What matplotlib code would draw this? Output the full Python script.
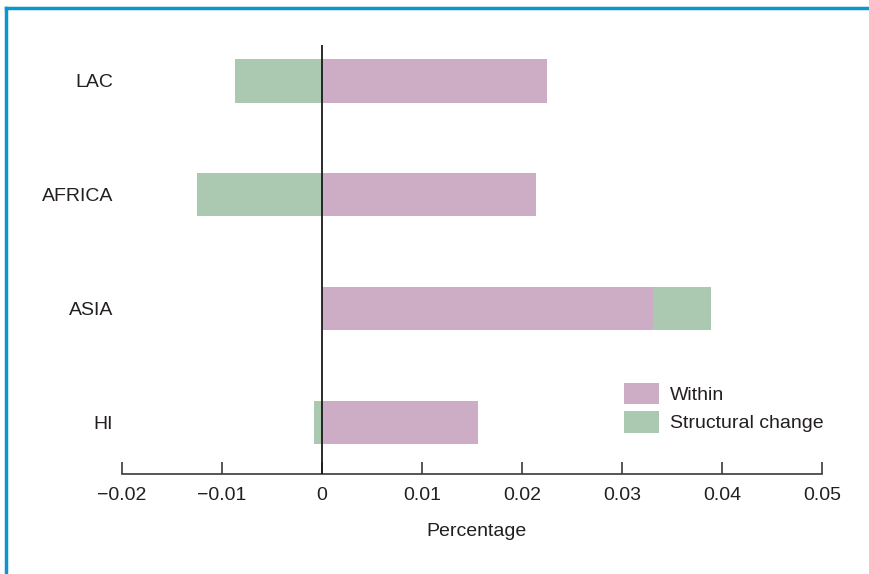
import matplotlib
matplotlib.use("Agg")
import matplotlib.pyplot as plt
from matplotlib.lines import Line2D

regions = ["HI", "ASIA", "AFRICA", "LAC"]
within = [0.0156, 0.0331, 0.0214, 0.0225]
structural = [-0.0008, 0.0058, -0.0125, -0.0087]
xticks = [-0.02, -0.01, 0, 0.01, 0.02, 0.03, 0.04, 0.05]
xticklabels = ["\u22120.02", "\u22120.01", "0", "0.01", "0.02", "0.03", "0.04", "0.05"]

c_within = "#cdadc6"
c_struct = "#abc8b1"
txt = "#231f20"
fs = 14

plt.rcParams['font.family'] = ['Liberation Sans', 'DejaVu Sans']

fig = plt.figure(figsize=(8.7, 5.74), dpi=100)
ax = fig.add_axes([122/870, 1-474/574, 700/870, 429/574])

ypos = list(range(len(regions)))
h = 0.38
ax.barh(ypos, within, height=h, color=c_within, label="Within", zorder=2)
# structural stacks on within when positive, starts at zero when negative
lefts = [w if s > 0 else 0 for w, s in zip(within, structural)]
ax.barh(ypos, structural, left=lefts, height=h, color=c_struct, label="Structural change", zorder=2)

ax.axvline(0, color="#1a1a1a", lw=1.3, zorder=3)

ax.set_xlim(-0.02, 0.05)
ax.set_ylim(-0.456, 3.316)
ax.set_xticks(xticks)
ax.set_xticklabels(xticklabels)
ax.set_yticks(ypos)
ax.set_yticklabels(regions)

for s in ["top", "right", "left"]:
    ax.spines[s].set_visible(False)
ax.spines["bottom"].set_color("#3a3a3a")
ax.spines["bottom"].set_linewidth(1.2)
ax.tick_params(axis="x", direction="in", length=9, width=1.2, color="#3a3a3a",
               labelsize=fs, labelcolor=txt, pad=9)
ax.tick_params(axis="y", length=0, labelsize=fs, labelcolor=txt, pad=6.5)

ax.set_xlabel("Percentage", fontsize=fs, color=txt)
ax.xaxis.set_label_coords((477-122)/700, -(532-474)/429, transform=ax.transAxes)
ax.xaxis.label.set_verticalalignment("center")

fig.legend(loc="upper left", bbox_to_anchor=(624/870, 1-383/574), frameon=False,
           fontsize=fs, handlelength=1.8, handleheight=1.31, labelspacing=0.36,
           handletextpad=0.57, borderpad=0, borderaxespad=0, labelcolor=txt)

blue = "#0a96d0"
fig.add_artist(Line2D([6/870, 1], [1-8/574, 1-8/574], color=blue, lw=2.5, transform=fig.transFigure))
fig.add_artist(Line2D([6/870, 6/870], [0, 1-8/574], color=blue, lw=2.5, transform=fig.transFigure))

fig.savefig("out.png", dpi=100)
